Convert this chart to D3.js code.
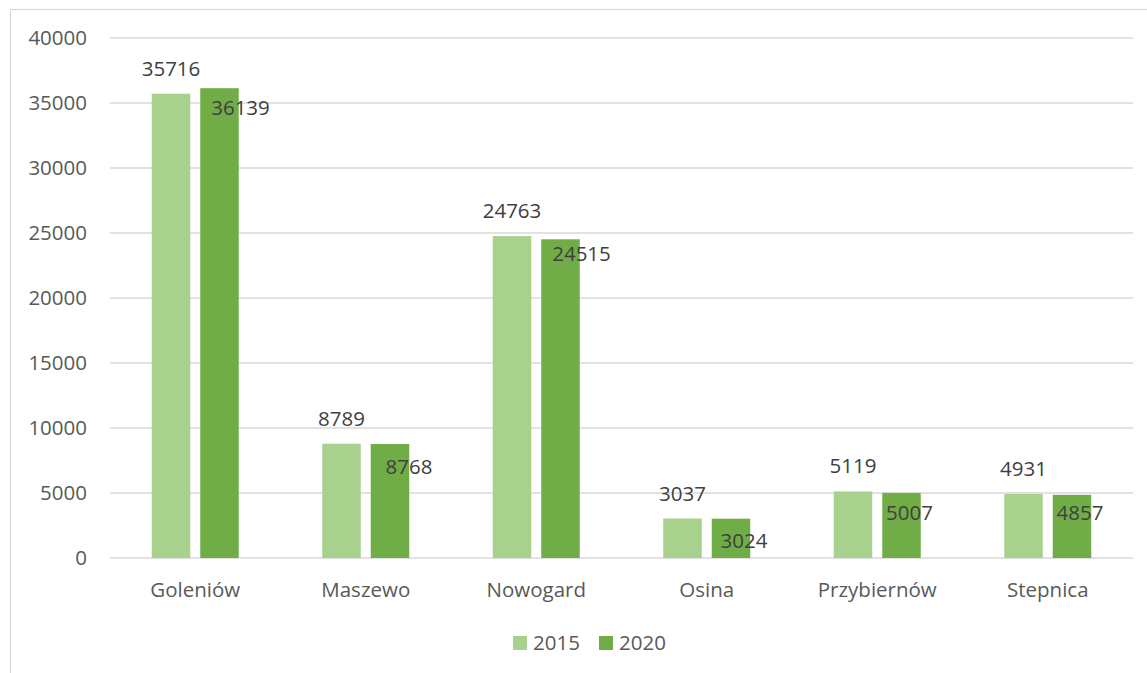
<!DOCTYPE html>
<html>
<head>
<meta charset="utf-8">
<script src="https://cdn.jsdelivr.net/npm/d3@7/dist/d3.min.js"></script>
<style>
  html, body { margin: 0; padding: 0; background: #ffffff; }
  svg { display: block; }
  text { font-family: "Open Sans", "Liberation Sans", sans-serif; fill: #595959; }
</style>
</head>
<body>
<svg id="chart" width="1147" height="673"></svg>
<script>
// ---- data ----
const categories = ["Goleniów", "Maszewo", "Nowogard", "Osina", "Przybiernów", "Stepnica"];
const seriesNames = ["2015", "2020"];
const values2015 = [35716, 8789, 24763, 3037, 5119, 4931];
const values2020 = [36139, 8768, 24515, 3024, 5007, 4857];
const yTicks = [0, 5000, 10000, 15000, 20000, 25000, 30000, 35000, 40000];

// ---- layout / style (not data) ----
const colors = { "2015": "#A9D18E", "2020": "#70AD47" };
const label2020Dx = [21, 19, 21, 13, 8, 8];
const label2020Dy = [27, 30, 22, 29, 27, 25];

const W = 1147, H = 673;
const plot = { left: 110, right: 1133, top: 38, bottom: 558 };
const svg = d3.select("#chart");

svg.append("rect")
  .attr("x", 10.5).attr("y", 9.5)
  .attr("width", W + 20).attr("height", H + 20)
  .attr("fill", "#ffffff").attr("stroke", "#D9D9D9").attr("stroke-width", 1.2);

const x0 = d3.scaleBand().domain(categories).range([plot.left, plot.right]).padding(0);
const x1 = d3.scaleBand().domain(seriesNames).range([0, x0.bandwidth()])
  .paddingInner(0.206).paddingOuter(0.861);
const y = d3.scaleLinear().domain([0, 40000]).range([plot.bottom, plot.top]);

// gridlines
svg.append("g").selectAll("line").data(yTicks).join("line")
  .attr("x1", plot.left).attr("x2", plot.right)
  .attr("y1", d => y(d)).attr("y2", d => y(d))
  .attr("stroke", "#D9D9D9").attr("stroke-width", 1.5);

// y axis labels
const yAxis = d3.axisLeft(y).tickValues(yTicks).tickSize(0).tickPadding(0).tickFormat(d3.format("d"));
const yg = svg.append("g").attr("transform", `translate(${plot.left - 23},0)`).call(yAxis);
yg.select(".domain").remove();
yg.selectAll("text").attr("font-size", 20.5).attr("fill", "#595959")
  .attr("font-family", "'Open Sans', sans-serif");

// x axis labels
const xAxis = d3.axisBottom(x0).tickSize(0).tickPadding(0);
const xg = svg.append("g").attr("transform", `translate(0,${plot.bottom})`).call(xAxis);
xg.select(".domain").remove();
xg.selectAll("text").attr("font-size", 20.5).attr("fill", "#595959")
  .attr("font-family", "'Open Sans', sans-serif")
  .attr("dy", null).attr("y", 39);

const rows = categories.map((c, i) => ({ cat: c, i, vals: { "2015": values2015[i], "2020": values2020[i] } }));

const groups = svg.append("g").selectAll("g").data(rows).join("g")
  .attr("transform", d => `translate(${x0(d.cat)},0)`);

groups.selectAll("rect").data(d => seriesNames.map(s => ({ s, v: d.vals[s] }))).join("rect")
  .attr("x", d => x1(d.s)).attr("width", x1.bandwidth())
  .attr("y", d => y(d.v)).attr("height", d => y(0) - y(d.v))
  .attr("fill", d => colors[d.s]);

// labels 2015 (outside end)
groups.append("text")
  .attr("x", x1("2015") + x1.bandwidth() / 2)
  .attr("y", d => y(d.vals["2015"]) - 18)
  .attr("text-anchor", "middle").attr("font-size", 20.5)
  .style("fill", "#404040")
  .text(d => d.vals["2015"]);

// labels 2020 (moved)
groups.append("text")
  .attr("x", d => x1("2020") + x1.bandwidth() / 2 + label2020Dx[d.i])
  .attr("y", d => y(d.vals["2020"]) + label2020Dy[d.i])
  .attr("text-anchor", "middle").attr("font-size", 20.5)
  .style("fill", "#404040")
  .text(d => d.vals["2020"]);

// legend
const lg = svg.append("g").selectAll("g").data(seriesNames).join("g")
  .attr("transform", (d, i) => `translate(${513 + i * 86},0)`);
lg.append("rect").attr("x", 0).attr("y", 636).attr("width", 14).attr("height", 14)
  .attr("fill", d => colors[d]);
lg.append("text").attr("x", 20).attr("y", 650).attr("font-size", 20.5).text(d => d);
</script>
</body>
</html>
